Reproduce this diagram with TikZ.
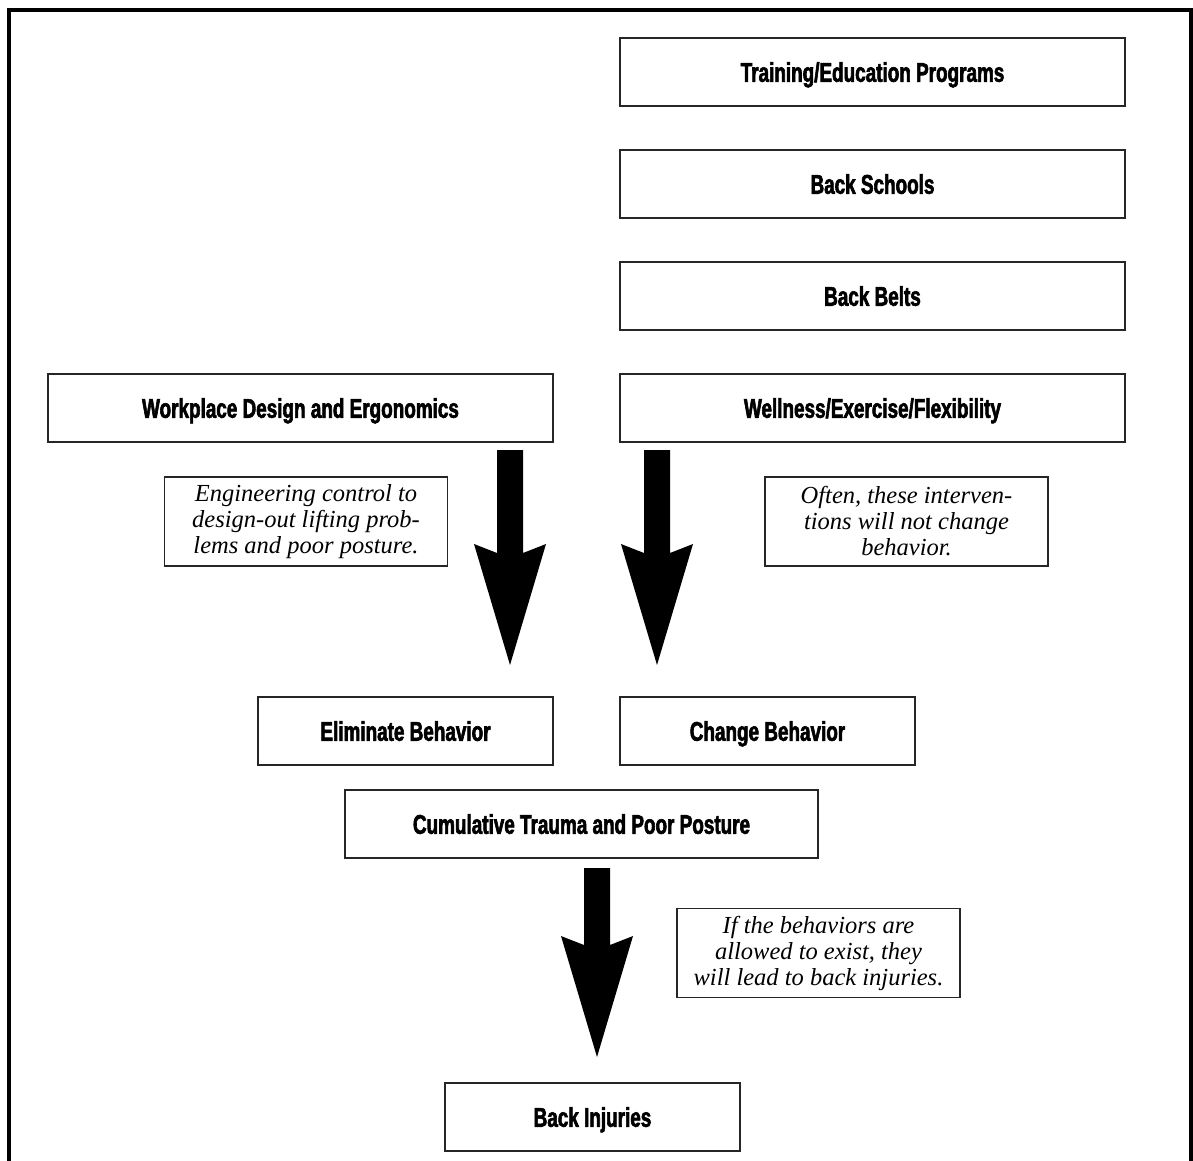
\documentclass[tikz,border=0pt]{standalone}
\usepackage{fontspec}
\newfontfamily\condfont{Liberation Sans}[FakeStretch=0.70,BoldFeatures={FakeBold=2.2}]
\newfontfamily\notefont{Liberation Serif}
\usetikzlibrary{calc}
\tikzset{
  box/.style={draw=black!85, line width=1.4pt, rectangle, inner sep=0pt,
    minimum height=68pt, text height=19.5pt, text depth=0pt,
    font=\condfont\bfseries\fontsize{27}{30}\selectfont},
  note/.style={draw=black!85, line width=1.2pt, rectangle, inner sep=0pt,
    minimum width=283pt, minimum height=89pt, align=center,
    font=\notefont\itshape\fontsize{24.5}{26}\selectfont},
  bigarrow/.style={fill=black, draw=none}
}
\newcommand{\fatarrow}[4]{% x, top, tip, name
  \coordinate (#4top) at (#1,#2);
  \coordinate (#4tip) at (#1,#3);
  \fill[bigarrow] ($(#4top)+(-13,0)$) -- ($(#4top)+(13,0)$)
    -- ($(#4tip)+(13,-112)$) -- ($(#4tip)+(36,-121)$) -- (#4tip)
    -- ($(#4tip)+(-36,-121)$) -- ($(#4tip)+(-13,-112)$) -- cycle;}
\begin{document}
\begin{tikzpicture}[x=1pt,y=-1pt]
\useasboundingbox (0,0) rectangle (1193,1160);
\fill[white] (0,0) rectangle (1193,1160);
% outer frame
\draw[line width=4pt] (8.5,1165) -- (8.5,10) -- (1191,10) -- (1191,1165);
% boxes
\node[box, minimum width=505pt] (train) at (872.5,72) {Training/Education Programs};
\node[box, minimum width=505pt] (school) at (872.5,184) {Back Schools};
\node[box, minimum width=505pt] (belt) at (872.5,296) {Back Belts};
\node[box, minimum width=505pt] (work) at (300.5,408) {Workplace Design and Ergonomics};
\node[box, minimum width=505pt] (well) at (872.5,408) {Wellness/Exercise/Flexibility};
\node[box, minimum width=295pt] (elim) at (405.5,731) {Eliminate Behavior};
\node[box, minimum width=295pt] (change) at (767.5,731) {Change Behavior};
\node[box, minimum width=473pt] (cum) at (581.5,824) {Cumulative Trauma and Poor Posture};
\node[box, minimum width=295pt] (inj) at (592.5,1117) {Back Injuries};
% notes
\node[note] (n1) at (306,521.5) {Engineering control to\\design-out lifting prob-\\lems and poor posture.};
\node[note] (n2) at (906.5,521.5) {Often, these interven-\\tions will not change\\behavior.};
\node[note] (n3) at (818.5,953) {If the behaviors are\\allowed to exist, they\\will lead to back injuries.};
% arrows
\fatarrow{510}{450}{665}{a1}
\fatarrow{657}{450}{665}{a2}
\fatarrow{597}{868}{1057}{a3}
\end{tikzpicture}
\end{document}
